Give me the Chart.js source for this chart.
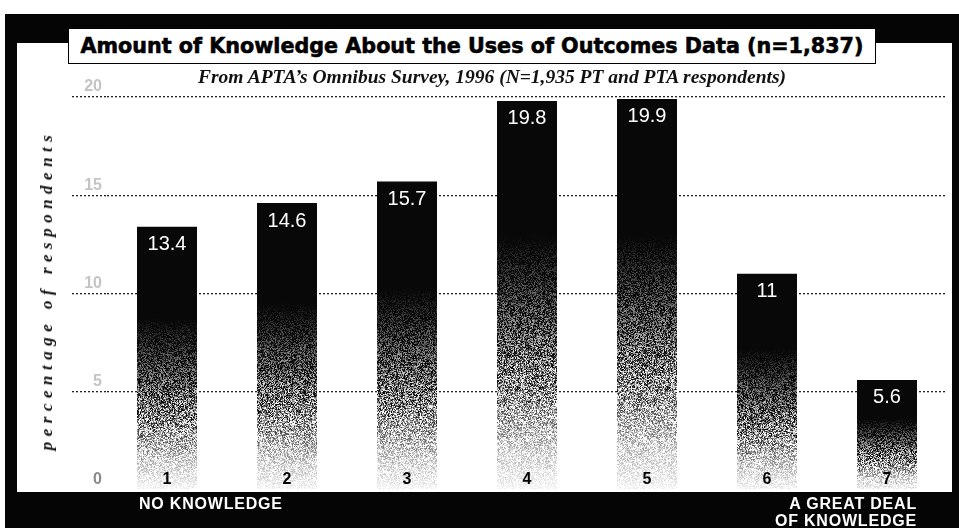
<!DOCTYPE html>
<html>
<head>
<meta charset="utf-8">
<script src="https://cdn.jsdelivr.net/npm/chart.js@4/dist/chart.umd.min.js"></script>
<style>
    body { margin: 0; background: #fff; }
    #wrap { position: relative; width: 959px; height: 529px; overflow: hidden; background: #fff; }
    #frame { position: absolute; left: 5px; top: 14px; right: 0; bottom: 1px; background: #050505; }
    #panel { position: absolute; left: 17px; top: 43px; right: 7px; bottom: 37px; background: #fff; }
    #chartCanvas { position: absolute; left: 0; top: 0; }
    #titleBox {
        position: absolute; left: 68px; top: 28px; width: 806px; height: 34px;
        background: #fff; border: 1.5px solid #000;
        font: bold 20.7px "DejaVu Sans", "Liberation Sans", Arial, sans-serif; line-height: 35px;
        text-align: center; color: #000; -webkit-text-stroke: 0.6px #000; white-space: nowrap;
    }
    #subtitle {
        position: absolute; left: 0; width: 984px; top: 66px; text-align: center;
        font: italic bold 19.5px "Liberation Serif", "Times New Roman", serif; color: #111; white-space: nowrap;
    }
    #yTitle {
        position: absolute; left: 47px; top: 290px; transform: translate(-50%, -50%) rotate(-90deg);
        font: italic bold 17px "Liberation Serif", "Times New Roman", serif; letter-spacing: 5.5px;
        color: #111; white-space: nowrap;
    }
    .band {
        position: absolute; color: #fff; font: bold 16px "Liberation Sans", Arial, sans-serif;
        letter-spacing: 0.8px; line-height: 17px; white-space: nowrap;
    }
    #lowLabel { left: 139px; top: 495px; }
    #highLabel { right: 42px; top: 495px; text-align: right; }
</style>
</head>
<body>
<div id="wrap">
    <div id="frame"></div>
    <div id="panel"></div>
    <canvas id="chartCanvas" width="959" height="529"></canvas>
    <div id="titleBox">Amount of Knowledge About the Uses of Outcomes Data (n=1,837)</div>
    <div id="subtitle">From APTA’s Omnibus Survey, 1996 (N=1,935 PT and PTA respondents)</div>
    <div id="yTitle">percentage of respondents</div>
    <div class="band" id="lowLabel">NO KNOWLEDGE</div>
    <div class="band" id="highLabel">A GREAT DEAL<br>OF KNOWLEDGE</div>
</div>

<script>
// knowledge scale 1..7 and share of respondents (%)
const categories = ['1', '2', '3', '4', '5', '6', '7'];
const percentages = [13.4, 14.6, 15.7, 19.8, 19.9, 11, 5.6];
const yTicks = [0, 5, 10, 15, 20];

const fontFamily = '"Liberation Sans", Arial, sans-serif';

// white value label near the top of every bar
const valueLabels = {
    id: 'valueLabels',
    afterDatasetsDraw(chart) {
        const ctx = chart.ctx;
        const meta = chart.getDatasetMeta(0);
        ctx.save();
        ctx.fillStyle = '#fff';
        ctx.font = '20px ' + fontFamily;
        ctx.textAlign = 'center';
        ctx.textBaseline = 'middle';
        meta.data.forEach((bar, i) => {
            ctx.fillText(String(percentages[i]), bar.x, bar.y + 18);
        });
        ctx.restore();
    }
};

// darkness down the bar: 0 = top of bar, 1 = baseline
const fadeStops = [[0, 1], [0.33, 1], [0.45, 0.9], [0.58, 0.74], [0.7, 0.52], [0.8, 0.3], [0.9, 0.12], [1, 0.02]];

function darkness(f) {
    for (let i = 1; i < fadeStops.length; i++) {
        const [f1, d1] = fadeStops[i];
        const [f0, d0] = fadeStops[i - 1];
        if (f <= f1) return d0 + (d1 - d0) * (f - f0) / (f1 - f0);
    }
    return fadeStops[fadeStops.length - 1][1];
}

// cheap fixed hash for the printed halftone grain
function grain(x, y) {
    let h = Math.imul(x, 374761393) + Math.imul(y, 668265263) | 0;
    h = Math.imul(h ^ (h >>> 13), 1274126177);
    h ^= h >>> 16;
    return (h >>> 0) / 4294967296;
}

const fillCache = {};

// black top, grainy fade toward the baseline (pattern lives in chart coordinates)
function barFill(context) {
    const chart = context.chart;
    if (!chart.chartArea || context.raw === undefined) return '#000';
    const key = context.raw;
    if (fillCache[key]) return fillCache[key];
    const yScale = chart.scales.y;
    const top = yScale.getPixelForValue(context.raw);
    const base = yScale.getPixelForValue(0);
    const w = 160, h = chart.height;
    const off = document.createElement('canvas');
    off.width = w;
    off.height = h;
    const octx = off.getContext('2d');
    const img = octx.createImageData(w, h);
    for (let y = 0; y < h; y++) {
        const f = Math.min(1, Math.max(0, (y - top) / (base - top)));
        const d = darkness(f);
        const amp = 4 * d * (1 - d);
        for (let x = 0; x < w; x++) {
            const t = grain(x + (key * 97 | 0), y);
            let v = 255 * (1 - d) + (t - 0.5) * 300 * amp;
            v = Math.max(8, Math.min(255, v));
            const p = (y * w + x) * 4;
            img.data[p] = img.data[p + 1] = img.data[p + 2] = v;
            img.data[p + 3] = 255;
        }
    }
    octx.putImageData(img, 0, 0);
    fillCache[key] = chart.ctx.createPattern(off, 'repeat-x');
    return fillCache[key];
}

const hideZero = (c, color) => (c.tick && c.tick.value === 0 ? 'rgba(0,0,0,0)' : color);

new Chart(document.getElementById('chartCanvas'), {
    type: 'bar',
    data: {
        labels: categories,
        datasets: [{
            data: percentages,
            backgroundColor: barFill,
            borderWidth: 0,
            barPercentage: 0.5,
            categoryPercentage: 1
        }]
    },
    options: {
        responsive: false,
        animation: false,
        layout: { padding: { left: 0, right: 12, top: 97, bottom: 0 } },
        plugins: { legend: { display: false }, tooltip: { enabled: false } },
        scales: {
            x: {
                grid: { display: false, drawTicks: false },
                border: { display: false },
                ticks: {
                    z: 1,
                    mirror: true,
                    padding: 1,
                    color: '#000',
                    font: { family: fontFamily, size: 16, weight: 'bold' }
                },
                afterFit: s => { s.height = 39; }
            },
            y: {
                min: 0,
                max: 20,
                afterBuildTicks: s => { s.ticks = yTicks.map(v => ({ value: v })); },
                grid: {
                    color: c => hideZero(c, '#222'),
                    lineWidth: 1.3,
                    tickLength: 35,
                    tickColor: c => hideZero(c, '#222'),
                    tickWidth: 1.3,
                    tickBorderDash: [2, 2]
                },
                border: { display: false, dash: [2, 2] },
                ticks: {
                    padding: -30,
                    labelOffset: -10,
                    color: c => (c.tick.value === 0 ? '#8a8a8a' : '#c4c4c4'),
                    font: { family: fontFamily, size: 16, weight: 'bold' }
                },
                afterFit: s => { s.width = 107; }
            }
        }
    },
    plugins: [valueLabels]
});
</script>
</body>
</html>
